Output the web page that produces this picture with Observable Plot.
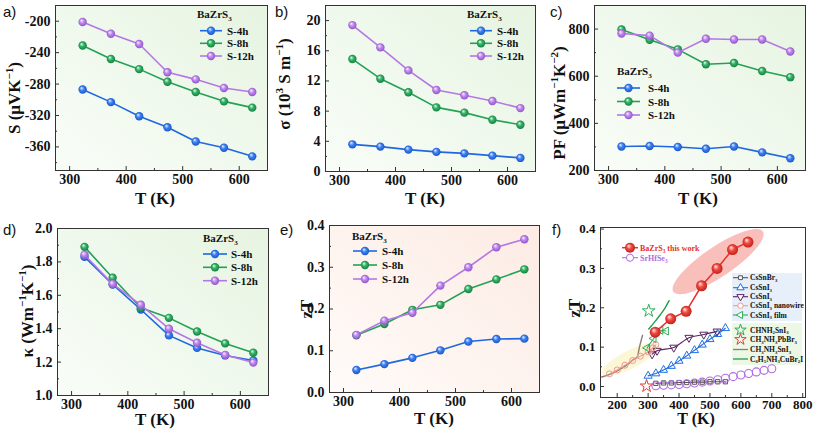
<!DOCTYPE html>
<html><head><meta charset="utf-8">
<script src="https://cdn.jsdelivr.net/npm/d3@7"></script>
<script src="https://cdn.jsdelivr.net/npm/@observablehq/plot@0.6"></script>
<style>
body{margin:0;background:#fff}
#wrap{position:relative;width:817px;height:435px;overflow:hidden;background:#fff}
#wrap svg{position:absolute}
#wrap svg text{font-family:"Liberation Serif",serif}
#wrap svg text.sans{font-family:"Liberation Sans",sans-serif}
</style></head><body>
<svg width="0" height="0" style="position:absolute">
<defs>
<radialGradient id="gBlue" cx="50%" cy="50%" r="55%" fx="35%" fy="30%"><stop offset="0%" stop-color="#eef4ff"/><stop offset="45%" stop-color="#3d80f2"/><stop offset="100%" stop-color="#1452c4"/></radialGradient>
<radialGradient id="gGreen" cx="50%" cy="50%" r="55%" fx="35%" fy="30%"><stop offset="0%" stop-color="#eafff0"/><stop offset="45%" stop-color="#33b266"/><stop offset="100%" stop-color="#137a3c"/></radialGradient>
<radialGradient id="gPurple" cx="50%" cy="50%" r="55%" fx="35%" fy="30%"><stop offset="0%" stop-color="#fbf2ff"/><stop offset="45%" stop-color="#bf88ee"/><stop offset="100%" stop-color="#8a4fc2"/></radialGradient>
<radialGradient id="gRed" cx="50%" cy="50%" r="55%" fx="35%" fy="30%"><stop offset="0%" stop-color="#fff0ee"/><stop offset="45%" stop-color="#f04a40"/><stop offset="100%" stop-color="#b81c16"/></radialGradient>
<linearGradient id="bgGreen" x1="1" y1="0" x2="0" y2="1"><stop offset="0%" stop-color="#e6f4e1"/><stop offset="100%" stop-color="#f9fdf8"/></linearGradient>
<linearGradient id="bgPeach" x1="1" y1="0" x2="0" y2="1"><stop offset="0%" stop-color="#fcebe3"/><stop offset="100%" stop-color="#fffbf9"/></linearGradient>
</defs></svg>
<div id="wrap"></div>
<script>
// ---------- data ----------
const T = [323, 373, 423, 473, 523, 573, 623];
const seriesNames = ["S-4h", "S-8h", "S-12h"];

const S_4h  = [-287, -303, -321, -335, -353, -361, -372];
const S_8h  = [-231, -248, -261, -277, -290, -302, -310];
const S_12h = [-201, -216, -229, -265, -274, -285, -290];

const sigma_4h  = [3.6, 3.3, 2.9, 2.6, 2.4, 2.1, 1.8];
const sigma_8h  = [14.9, 12.3, 10.5, 8.5, 7.8, 6.85, 6.2];
const sigma_12h = [19.4, 16.45, 13.4, 10.8, 10.1, 9.35, 8.4];

const PF_4h  = [302, 304, 300, 292, 302, 277, 252];
const PF_8h  = [798, 755, 714, 651, 656, 622, 596];
const PF_12h = [781, 772, 700, 759, 756, 756, 705];

const kappa_4h  = [1.83, 1.665, 1.515, 1.36, 1.285, 1.24, 1.21];
const kappa_8h  = [1.89, 1.705, 1.525, 1.465, 1.383, 1.312, 1.256];
const kappa_12h = [1.843, 1.668, 1.543, 1.40, 1.316, 1.243, 1.197];

const zT_4h  = [0.054, 0.068, 0.083, 0.101, 0.122, 0.128, 0.129];
const zT_8h  = [0.137, 0.164, 0.198, 0.210, 0.248, 0.271, 0.295];
const zT_12h = [0.138, 0.172, 0.191, 0.256, 0.300, 0.348, 0.367];

// panel f (literature comparison)
const SrHfSe3_T  = [325, 350, 375, 400, 425, 450, 475, 500, 525, 550, 575, 600, 625, 650, 675, 700];
const SrHfSe3_zT = [0.002, 0.003, 0.004, 0.005, 0.007, 0.009, 0.011, 0.014, 0.017, 0.021, 0.025, 0.029, 0.033, 0.037, 0.041, 0.045];
const CsSnBr3_T  = [325, 350, 375, 400, 425, 450, 475, 500, 525, 550];
const CsSnBr3_zT = [0.008, 0.009, 0.009, 0.010, 0.010, 0.011, 0.011, 0.012, 0.012, 0.012];
const CsSnI3a_T  = [300, 325, 350, 375, 400, 425, 450, 475, 500, 525, 550];
const CsSnI3a_zT = [0.027, 0.033, 0.042, 0.052, 0.065, 0.078, 0.092, 0.106, 0.120, 0.133, 0.148];
const CsSnI3b_T  = [313, 329, 383, 432, 480, 523];
const CsSnI3b_zT = [0.082, 0.091, 0.099, 0.124, 0.132, 0.140];
const nanowire_T  = [175, 200, 225, 250, 275, 300, 315, 325];
const nanowire_zT = [0.032, 0.042, 0.054, 0.066, 0.077, 0.088, 0.098, 0.106];
const film_T  = [297, 318, 340, 358];
const film_zT = [0.098, 0.122, 0.143, 0.141];
const CHNH2SnI3_T = [302], CHNH2SnI3_zT = [0.192];
const MAPbBr3_T = [295], MAPbBr3_zT = [0.001];
const MASnI3_T  = [150, 180, 210, 240, 255, 265, 272, 282];
const MASnI3_zT = [0.024, 0.032, 0.044, 0.060, 0.070, 0.075, 0.100, 0.130];
const PhCu_T  = [302, 320, 340, 355, 368];
const PhCu_zT = [0.146, 0.163, 0.183, 0.200, 0.218];

// ---------- styles ----------
const serif = "Liberation Serif";
const sans = "Liberation Sans";
const colors = ["#1f68e0", "#23a155", "#b577e6"];
const grads = ["url(#gBlue)", "url(#gGreen)", "url(#gPurple)"];
const wrap = document.getElementById("wrap");

const triDown = {draw(c, size) { const y = -Math.sqrt(size / (Math.sqrt(3) * 3)); const s = Math.sqrt(3);
  c.moveTo(0, -y * 2); c.lineTo(-s * y, y); c.lineTo(s * y, y); c.closePath(); }};
const triLeft = {draw(c, size) { const y = -Math.sqrt(size / (Math.sqrt(3) * 3)); const s = Math.sqrt(3);
  c.moveTo(y * 2, 0); c.lineTo(-y, -s * y); c.lineTo(-y, s * y); c.closePath(); }};

function rich(sel, str, size) {
  const toks = str.match(/(_\{[^}]*\}|\^\{[^}]*\}|[^_^]+)/g);
  let shift = 0;
  for (const tok of toks) {
    let t = tok, s = 0, fs = size;
    if (tok.startsWith("_{")) { t = tok.slice(2, -1); s = 0.25 * size; fs = size * 0.65; }
    else if (tok.startsWith("^{")) { t = tok.slice(2, -1); s = -0.42 * size; fs = size * 0.65; }
    sel.append("tspan").attr("dy", s - shift).attr("font-size", fs).text(t);
    shift = s;
  }
}
function text(svg, x, y, str, {size = 17, anchor = "middle", rotate = false, fill = "#111", cls = null, weight = "bold"} = {}) {
  const t = svg.append("text").attr("x", x).attr("y", y).attr("text-anchor", anchor)
    .attr("font-weight", weight).attr("font-size", size).attr("fill", fill);
  if (cls) t.attr("class", cls);
  if (rotate) t.attr("transform", `rotate(-90,${x},${y})`);
  rich(t, str, size);
  return t;
}

function makePanel(o) {
  const iw = o.width - o.ml - o.mr, ih = o.height - o.mt - o.mb;
  const fs = o.tickFont || 14;
  const plot = Plot.plot({
    width: o.width, height: o.height,
    marginLeft: o.ml, marginRight: o.mr, marginTop: o.mt, marginBottom: o.mb,
    x: {domain: o.xDomain, label: null},
    y: {domain: o.yDomain, label: null},
    style: {fontFamily: serif, fontWeight: "bold", fontSize: fs + "px", color: "#111", background: "transparent", overflow: "visible"},
    marks: [
      Plot.frame({fill: o.bg, stroke: "none"}),
      Plot.ruleX(o.xTicks, {x: d => d, insetTop: ih - 4, stroke: "#333"}),
      Plot.ruleX(o.xMinor, {x: d => d, insetTop: ih - 2, stroke: "#333"}),
      Plot.ruleY(o.yTicks, {y: d => d, insetRight: iw - 4, stroke: "#333"}),
      Plot.ruleY(o.yMinor, {y: d => d, insetRight: iw - 2, stroke: "#333"}),
      Plot.axisX(o.xTicks, {tickSize: 0, tickPadding: o.xPad ?? 4, tickFormat: d => String(d), fontFamily: serif, fontSize: fs, fontWeight: "bold"}),
      Plot.axisY(o.yTicks, {tickSize: 0, tickPadding: 5, tickFormat: o.yFmt || (d => String(d)), fontFamily: serif, fontSize: fs, fontWeight: "bold"}),
      ...o.marks,
      Plot.frame({stroke: "#333", strokeWidth: 1})
    ]
  });
  plot.style.left = o.left + "px";
  plot.style.top = o.top + "px";
  wrap.appendChild(plot);
  const svg = d3.select(plot);
  text(svg, o.letter[0], o.letter[1], o.letter[2], {size: 15, cls: "sans", weight: "normal", anchor: "start"});
  text(svg, o.xl[0], o.xl[1], "T (K)", {size: o.xlSize || 17});
  text(svg, o.yl[0], o.yl[1], o.ylabel, {size: 17, rotate: true});
  return {plot, svg};
}

function seriesMarks(ys) {
  return ys.flatMap((vals, i) => {
    const data = T.map((t, j) => ({T: t, v: vals[j]}));
    return [
      Plot.line(data, {x: "T", y: "v", stroke: colors[i], strokeWidth: 1.6}),
      Plot.dot(data, {x: "T", y: "v", r: 4.2, fill: grads[i], stroke: "none"})
    ];
  });
}

function legend3(svg, x, yTitle, rows, lx1, lx2, tx) {
  text(svg, x, yTitle, "BaZrS_{3}", {size: 11, anchor: "start"});
  seriesNames.forEach((name, i) => {
    const y = rows[i];
    svg.append("line").attr("x1", lx1).attr("x2", lx2).attr("y1", y).attr("y2", y).attr("stroke", colors[i]).attr("stroke-width", 1.6);
    svg.append("circle").attr("cx", (lx1 + lx2) / 2).attr("cy", y).attr("r", 4.2).attr("fill", grads[i]);
    text(svg, tx, y + 4, name, {size: 11, anchor: "start"});
  });
}

const xDom = [275, 650];
const xT = [300, 400, 500, 600], xM = [350, 450, 550];

// a)
let p = makePanel({left: 0, top: 0, width: 272, height: 215, ml: 55, mr: 5, mt: 5, mb: 45,
  xDomain: xDom, yDomain: [-390, -180], xTicks: xT, xMinor: xM,
  yTicks: [-360, -320, -280, -240, -200], yMinor: [-380, -340, -300, -260, -220],
  bg: "url(#bgGreen)", marks: seriesMarks([S_4h, S_8h, S_12h]),
  letter: [3, 17, "a)"], xl: [155, 204], yl: [20, 98], ylabel: "S (μVK^{−1})"});
legend3(p.svg, 197, 18, [30.7, 43.3, 56], 200, 222, 227);

// b)
p = makePanel({left: 270, top: 0, width: 272, height: 215, ml: 55, mr: 7, mt: 5, mb: 44,
  xDomain: xDom, yDomain: [0, 22], xTicks: xT, xMinor: xM,
  yTicks: [0, 4, 8, 12, 16, 20], yMinor: [2, 6, 10, 14, 18],
  bg: "url(#bgGreen)", marks: seriesMarks([sigma_4h, sigma_8h, sigma_12h]),
  letter: [5, 17, "b)"], xl: [155, 204], yl: [20, 84], ylabel: "σ (10^{3} S m^{−1})"});
legend3(p.svg, 197, 18, [30.7, 43.3, 56], 200, 222, 227);

// c)
p = makePanel({left: 545, top: 0, width: 272, height: 215, ml: 49, mr: 12, mt: 5, mb: 45,
  xDomain: xDom, yDomain: [200, 900], xTicks: xT, xMinor: xM,
  yTicks: [200, 400, 600, 800], yMinor: [300, 500, 700],
  bg: "url(#bgGreen)", marks: seriesMarks([PF_4h, PF_8h, PF_12h]),
  letter: [5, 17, "c)"], xl: [153, 204], yl: [20, 103], ylabel: "PF (μWm^{−1}K^{−2})"});
legend3(p.svg, 72, 75, [88, 101.5, 115], 72, 95, 103);

// d)
p = makePanel({left: 0, top: 215, width: 272, height: 220, ml: 57, mr: 4, mt: 13, mb: 40,
  xDomain: xDom, yDomain: [1.0, 2.0], xTicks: xT, xMinor: xM,
  yTicks: [1.0, 1.2, 1.4, 1.6, 1.8, 2.0], yMinor: [1.1, 1.3, 1.5, 1.7, 1.9], yFmt: d => d.toFixed(1),
  bg: "url(#bgGreen)", marks: seriesMarks([kappa_4h, kappa_8h, kappa_12h]),
  letter: [3, 20, "d)"], xl: [155, 210], yl: [33, 96], ylabel: "κ (Wm^{−1}K^{−1})"});
legend3(p.svg, 203, 27, [39, 52.3, 65.7], 203, 227, 231);

// e)
p = makePanel({left: 270, top: 215, width: 272, height: 220, ml: 59, mr: 3, mt: 10, mb: 43,
  xDomain: xDom, yDomain: [0, 0.4], xTicks: xT, xMinor: xM,
  yTicks: [0, 0.1, 0.2, 0.3, 0.4], yMinor: [0.05, 0.15, 0.25, 0.35], yFmt: d => d.toFixed(1),
  bg: "url(#bgPeach)", marks: seriesMarks([zT_4h, zT_8h, zT_12h]),
  letter: [10, 20, "e)"], xl: [164, 209], yl: [42, 94], ylabel: "zT"});
legend3(p.svg, 82, 25, [36, 50, 64], 83, 107, 112);

// f)
const pts = (xs, ys) => xs.map((x, i) => ({T: x, v: ys[i]}));
const BaZrS3 = pts(T, zT_12h);
const fSeries = [
  {name: "CsSnBr_{3}", data: pts(CsSnBr3_T, CsSnBr3_zT), color: "#555555", symbol: "square", r: 2.4, line: true},
  {name: "CsSnI_{3}", data: pts(CsSnI3a_T, CsSnI3a_zT), color: "#1f6fe0", symbol: "triangle", r: 3, line: true},
  {name: "CsSnI_{3}", data: pts(CsSnI3b_T, CsSnI3b_zT), color: "#5a2560", symbol: triDown, r: 3, line: true},
  {name: "CsSnI_{3} nanowire", data: pts(nanowire_T, nanowire_zT), color: "#ef9a94", symbol: "circle", r: 3, line: true},
  {name: "CsSnI_{3} film", data: pts(film_T, film_zT), color: "#2bae58", symbol: triLeft, r: 3, line: true}
];
const fSeries2 = [
  {name: "CHNH_{2}SnI_{3}", data: pts(CHNH2SnI3_T, CHNH2SnI3_zT), color: "#2bae58", symbol: "star", r: 4, line: false},
  {name: "CH_{3}NH_{3}PbBr_{3}", data: pts(MAPbBr3_T, MAPbBr3_zT), color: "#ee3b35", symbol: "star", r: 4, line: false},
  {name: "CH_{3}NH_{3}SnI_{3}", data: pts(MASnI3_T, MASnI3_zT), color: "#8b7d6e", symbol: null, line: true},
  {name: "C_{6}H_{5}NH_{3}CuBr_{2}I", data: pts(PhCu_T, PhCu_zT), color: "#1f9e4c", symbol: null, line: true}
];
const SrHfSe3 = pts(SrHfSe3_T, SrHfSe3_zT);

const fMarks = [];
for (const s of [...fSeries2, ...fSeries]) {
  if (s.line) fMarks.push(Plot.line(s.data, {x: "T", y: "v", stroke: s.color, strokeWidth: s.symbol ? 1.1 : 1.4, curve: "monotone-x"}));
  if (s.symbol) fMarks.push(Plot.dot(s.data, {x: "T", y: "v", symbol: s.symbol, r: s.r, stroke: s.color, fill: "none", strokeWidth: 1}));
}
fMarks.push(Plot.dot(SrHfSe3, {x: "T", y: "v", r: 4, stroke: "#b06be0", fill: "none", strokeWidth: 1.1}));
fMarks.push(Plot.line(BaZrS3, {x: "T", y: "v", stroke: "#e8302a", strokeWidth: 1.5}));
fMarks.push(Plot.dot(BaZrS3, {x: "T", y: "v", r: 5.5, fill: "url(#gRed)", stroke: "none"}));

p = makePanel({left: 545, top: 215, width: 272, height: 220, ml: 55, mr: 12, mt: 12, mb: 38,
  xDomain: [146, 809], yDomain: [-0.028, 0.404], xTicks: [200, 300, 400, 500, 600, 700, 800], xMinor: [250, 350, 450, 550, 650, 750],
  yTicks: [0, 0.1, 0.2, 0.3, 0.4], yMinor: [0.05, 0.15, 0.25, 0.35], yFmt: d => d.toFixed(1), xPad: 2, tickFont: 13,
  bg: "white", marks: fMarks, xlSize: 16,
  letter: [7, 20, "f)"], xl: [151, 209], yl: [35, 93], ylabel: "zT"});

// decorations under data in panel f
{
  const sx = p.plot.scale("x"), sy = p.plot.scale("y");
  const frameRect = p.plot.querySelector('[aria-label="frame"]');
  const g = document.createElementNS("http://www.w3.org/2000/svg", "g");
  frameRect.after(g);
  const gs = d3.select(g);
  const cx = sx.apply(528), cy = sy.apply(0.316);
  gs.append("ellipse").attr("cx", cx).attr("cy", cy).attr("rx", 54).attr("ry", 15)
    .attr("transform", `rotate(-34,${cx},${cy})`).attr("fill", "#f6aaa4").attr("opacity", 0.75);
  const yx = sx.apply(245), yy = sy.apply(0.068);
  gs.append("ellipse").attr("cx", yx).attr("cy", yy).attr("rx", 32).attr("ry", 9)
    .attr("transform", `rotate(-27,${yx},${yy})`).attr("fill", "#fbf5cf").attr("opacity", 0.9);
  gs.append("rect").attr("x", 187).attr("y", 58).attr("width", 70).attr("height", 48).attr("fill", "#e6effa");
  gs.append("rect").attr("x", 187).attr("y", 108).attr("width", 70).attr("height", 42).attr("fill", "#ecf7e6");
}
// legend panel f
{
  const svg = p.svg;
  const sym = (s, x, y, r, stroke, fill) => svg.append("path")
    .attr("d", d3.symbol(typeof s === "string" ? {circle: d3.symbolCircle, square: d3.symbolSquare, triangle: d3.symbolTriangle, star: d3.symbolStar}[s] : s, Math.PI * r * r)())
    .attr("transform", `translate(${x},${y})`).attr("stroke", stroke).attr("fill", fill).attr("stroke-width", 1);
  svg.append("line").attr("x1", 77).attr("x2", 93).attr("y1", 32.7).attr("y2", 32.7).attr("stroke", "#e8302a").attr("stroke-width", 1.5);
  svg.append("circle").attr("cx", 85).attr("cy", 32.7).attr("r", 5).attr("fill", "url(#gRed)");
  text(svg, 95, 35.5, "BaZrS_{3} this work", {size: 8, anchor: "start", fill: "#e8302a"});
  svg.append("line").attr("x1", 77).attr("x2", 93).attr("y1", 42.7).attr("y2", 42.7).attr("stroke", "#b06be0").attr("stroke-width", 1.1);
  svg.append("circle").attr("cx", 85).attr("cy", 42.7).attr("r", 3.6).attr("fill", "white").attr("stroke", "#b06be0");
  text(svg, 95, 45.5, "SrHfSe_{3}", {size: 8, anchor: "start", fill: "#b06be0"});
  const rows1 = [62.7, 72.7, 81.7, 90.7, 100];
  fSeries.forEach((s, i) => {
    const y = rows1[i];
    svg.append("line").attr("x1", 188).attr("x2", 203).attr("y1", y).attr("y2", y).attr("stroke", s.color).attr("stroke-width", 1.1);
    sym(s.symbol, 195.5, y, s.r * 0.9, s.color, "white");
    text(svg, 205, y + 2.6, s.name, {size: 7.5, anchor: "start"});
  });
  const rows2 = [115, 124.5, 134.5, 144];
  fSeries2.forEach((s, i) => {
    const y = rows2[i];
    if (s.symbol) sym(s.symbol, 195.5, y, 3.6, s.color, "none");
    else svg.append("line").attr("x1", 188).attr("x2", 203).attr("y1", y).attr("y2", y).attr("stroke", s.color).attr("stroke-width", 1.3);
    text(svg, 205, y + 2.6, s.name, {size: 7.5, anchor: "start"});
  });
}
</script>
</body></html>
